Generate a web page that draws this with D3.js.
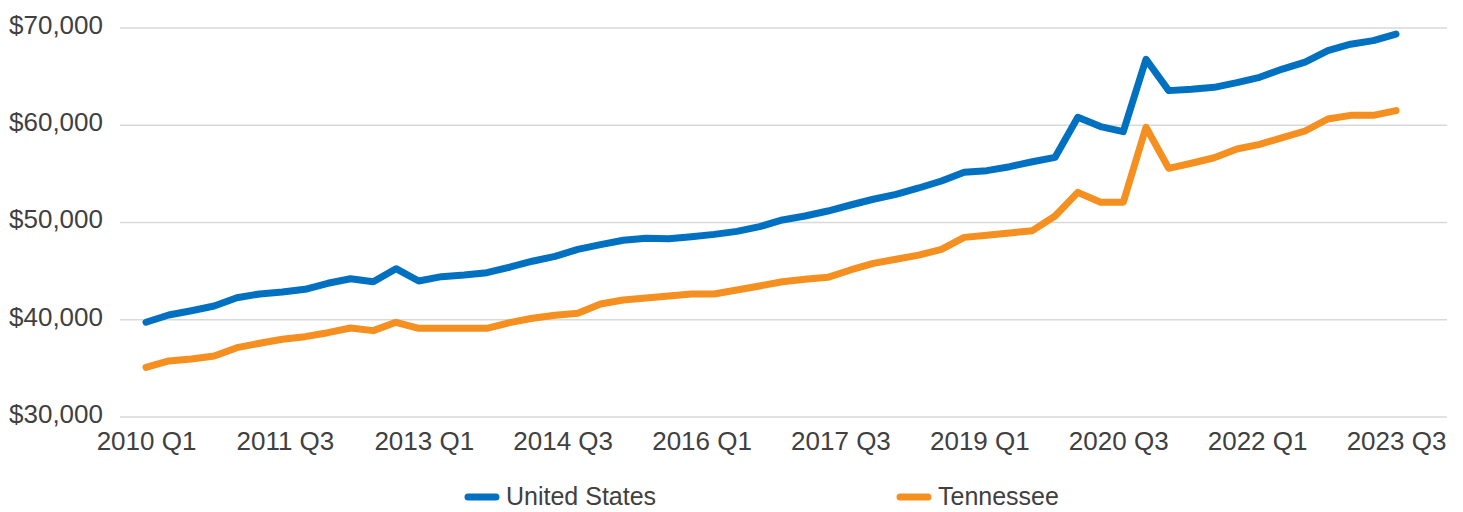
<!DOCTYPE html>
<html>
<head>
<meta charset="utf-8">
<script src="https://cdn.jsdelivr.net/npm/d3@7"></script>
<style>
  body { margin: 0; background: #fff; }
  text { font-family: "Liberation Sans", Arial, sans-serif; }
</style>
</head>
<body>
<script>
const w = 1463
const h = 512

// quarters plotted (2010 Q1 .. 2023 Q4)
const quarters = []
for (let y = 2010; y <= 2023; y++) for (let q = 1; q <= 4; q++) quarters.push(`${y} Q${q}`)

const tickLabels = ['2010 Q1', '2011 Q3', '2013 Q1', '2014 Q3', '2016 Q1', '2017 Q3', '2019 Q1', '2020 Q3', '2022 Q1', '2023 Q3']
const yTicks = [30000, 40000, 50000, 60000, 70000]

const unitedStates = [
	39740, 40490, 40930, 41410, 42270, 42650, 42850, 43130, 43750, 44220,
	43910, 45250, 43980, 44430, 44600, 44840, 45400, 46020, 46520, 47240,
	47720, 48170, 48370, 48340, 48540, 48780, 49090, 49570, 50260, 50670,
	51180, 51800, 52390, 52900, 53550, 54270, 55160, 55330, 55740, 56250,
	56700, 60820, 59860, 59340, 66780, 63560, 63700, 63900, 64380, 64930,
	65780, 66500, 67670, 68330, 68700, 69380
]
const tennessee = [
	35110, 35760, 35960, 36270, 37130, 37580, 37990, 38260, 38670, 39150,
	38880, 39740, 39120, 39120, 39120, 39120, 39700, 40150, 40460, 40660,
	41620, 42030, 42240, 42440, 42650, 42650, 43060, 43470, 43910, 44160,
	44360, 45120, 45800, 46220, 46650, 47240, 48470, 48680, 48920, 49160,
	50670, 53100, 52080, 52080, 59790, 55570, 56090, 56660, 57560, 58040,
	58720, 59410, 60640, 61020, 61020, 61500
]

const series = [
	{ name: 'United States', values: unitedStates, color: '#0070C0' },
	{ name: 'Tennessee', values: tennessee, color: '#F48F20' }
]

const svg = d3.select('body')
	.append('svg')
	.attr('width', w)
	.attr('height', h)

const xScale = d3.scalePoint()
	.domain(quarters)
	.range([146, 1396])

// label axis spans the same extent as the lines
const xLabelScale = d3.scalePoint()
	.domain(tickLabels)
	.range([146, 1396])

const yScale = d3.scaleLinear()
	.domain([30000, 70000])
	.range([417, 28])

// gridlines
svg.append('g')
	.selectAll('line')
	.data(yTicks)
	.enter()
	.append('line')
	.attr('x1', 120)
	.attr('x2', 1447)
	.attr('y1', d => yScale(d))
	.attr('y2', d => yScale(d))
	.attr('stroke', '#d9d9d9')
	.attr('stroke-width', 1.5)

const yAxis = d3.axisLeft(yScale)
	.tickValues(yTicks)
	.tickSize(0)
	.tickPadding(0)
	.tickFormat(d => '$' + d3.format(',')(d))

svg.append('g')
	.attr('transform', 'translate(103,-3)')
	.call(yAxis)
	.call(g => g.select('.domain').remove())
	.selectAll('text')
	.attr('font-size', '26px')
	.attr('fill', '#404040')

const xAxis = d3.axisBottom(xLabelScale)
	.tickSize(0)
	.tickPadding(0)

svg.append('g')
	.attr('transform', 'translate(0,432)')
	.call(xAxis)
	.call(g => g.select('.domain').remove())
	.selectAll('text')
	.attr('font-size', '26px')
	.attr('fill', '#404040')

const lineFunction = d3.line()
	.x((d, i) => xScale(quarters[i]))
	.y(d => yScale(d))
	.curve(d3.curveLinear)

series.forEach(s => {
	svg.append('path')
		.attr('d', lineFunction(s.values))
		.attr('stroke', s.color)
		.attr('stroke-width', 7)
		.attr('stroke-linecap', 'round')
		.attr('stroke-linejoin', 'round')
		.attr('fill', 'none')
})

// legend
const legendX = [468, 900]
const legend = svg.append('g')
	.selectAll('g')
	.data(series)
	.enter()
	.append('g')
	.attr('transform', (d, i) => `translate(${legendX[i]},497)`)

legend.append('line')
	.attr('x1', 0)
	.attr('x2', 28)
	.attr('stroke', d => d.color)
	.attr('stroke-width', 7)
	.attr('stroke-linecap', 'round')

legend.append('text')
	.attr('x', 38)
	.attr('y', 8)
	.attr('font-size', '25px')
	.attr('fill', '#404040')
	.text(d => d.name)
</script>
</body>
</html>
